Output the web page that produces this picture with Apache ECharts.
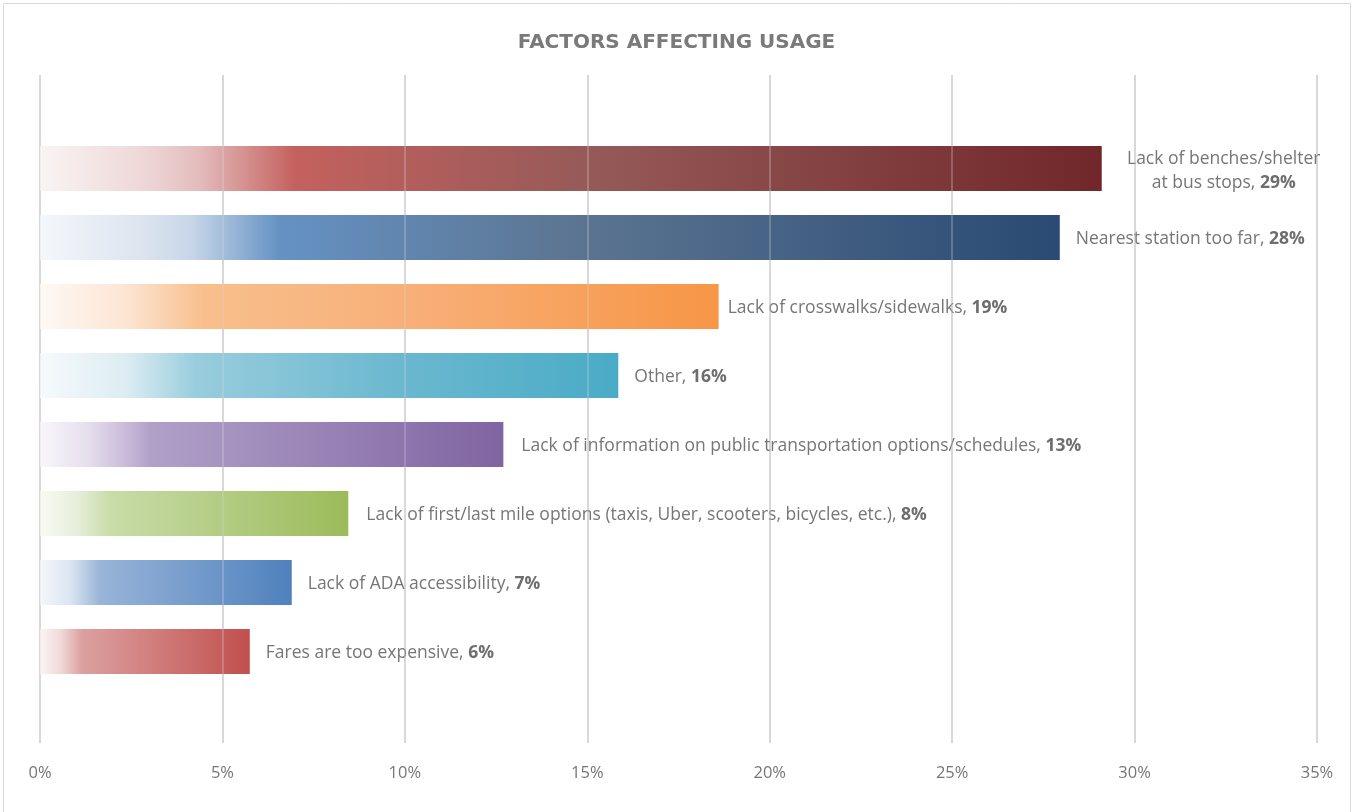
<!DOCTYPE html>
<html>
<head>
<meta charset="utf-8">
<style>
  html, body { margin: 0; padding: 0; background: #ffffff; }
  #chart { width: 1353px; height: 812px; }
</style>
<script src="https://cdn.jsdelivr.net/npm/echarts@6/dist/echarts.min.js"></script>
</head>
<body>
<div id="chart"></div>
<script>
// Survey responses: share of respondents citing each factor (percent)
const categories = [
  'Lack of benches/shelter\nat bus stops',
  'Nearest station too far',
  'Lack of crosswalks/sidewalks',
  'Other',
  'Lack of information on public transportation options/schedules',
  'Lack of first/last mile options (taxis, Uber, scooters, bicycles, etc.)',
  'Lack of ADA accessibility',
  'Fares are too expensive'
];
const values = [29.1, 27.95, 18.6, 15.85, 12.7, 8.45, 6.9, 5.75];

const axisTicks = [0, 5, 10, 15, 20, 25, 30, 35];

// Gradient stops for each bar, left (pale) to right (full colour)
const barGradients = [
  [[0, '#faf4f4'], [0.1, '#eed6d6'], [0.15, '#e3bcbc'], [0.24, '#c4615e'], [0.52, '#955a58'], [1, '#71272a']],
  [[0, '#f4f7fb'], [0.1, '#dce4ef'], [0.15, '#c6d5e8'], [0.235, '#6592c3'], [0.52, '#5c7592'], [1, '#2a4a73']],
  [[0, '#fef9f5'], [0.13, '#fce4d2'], [0.24, '#f8bf8c'], [0.55, '#f8af78'], [1, '#f79646']],
  [[0, '#f6fafc'], [0.15, '#dcecf2'], [0.27, '#98cddd'], [0.62, '#6bb8cf'], [1, '#4aabc6']],
  [[0, '#f8f6fa'], [0.1, '#e6e0ee'], [0.19, '#c8b8d8'], [0.24, '#b0a0c8'], [1, '#8064a2']],
  [[0, '#f8faf3'], [0.12, '#e6eedb'], [0.23, '#c8dca8'], [1, '#9bbb59']],
  [[0, '#f4f7fb'], [0.12, '#dbe5f1'], [0.24, '#98b4d8'], [1, '#4f81bd']],
  [[0, '#fbf4f4'], [0.1, '#f0d8d8'], [0.2, '#dca0a0'], [1, '#c0504d']]
];

const labelGap = [0, 16, 9, 16, 18, 18, 16, 16];

const FONT = '"Open Sans", "Noto Sans", sans-serif';
const TEXT = '#767676';

const chart = echarts.init(document.getElementById('chart'), null, { renderer: 'canvas' });

const gridRect = { left: 40, right: 36, top: 75, bottom: 69 };

const seriesData = values.map((v, i) => {
  const item = {
    value: v,
    itemStyle: {
      color: new echarts.graphic.LinearGradient(0, 0, 1, 0,
        barGradients[i].map(s => ({ offset: s[0], color: s[1] })))
    },
    label: { distance: labelGap[i], offset: [0, 2] }
  };
  if (i === 0) {
    // two-line label, lines centred over each other
    item.label = { distance: 0, align: 'center', offset: [122, 3] };
  }
  return item;
});

chart.setOption({
  animation: false,
  backgroundColor: '#ffffff',
  title: {
    text: 'FACTORS AFFECTING USAGE',
    left: 'center',
    top: 28,
    textStyle: { fontFamily: '"DejaVu Sans", sans-serif', fontSize: 20, fontWeight: 'bold', color: '#7a7a7a' }
  },
  graphic: [{
    type: 'rect',
    shape: { x: 3.5, y: 3.5, width: 1347, height: 820 },
    style: { fill: 'none', stroke: '#d9d9d9', lineWidth: 1 },
    silent: true
  }],
  grid: [
    Object.assign({}, gridRect),
    { left: 40, right: 36, top: 134, height: 552 },
    Object.assign({}, gridRect)
  ],
  xAxis: [
    {
      gridIndex: 0, type: 'value', min: axisTicks[0], max: axisTicks[axisTicks.length - 1], interval: 5,
      axisLine: { show: false }, axisTick: { show: false },
      splitLine: { lineStyle: { color: '#d9d9d9', width: 2 } },
      axisLabel: {
        formatter: v => axisTicks.includes(v) ? v + '%' : '',
        color: TEXT, fontFamily: FONT, fontSize: 16.5, margin: 22
      }
    },
    {
      gridIndex: 1, type: 'value', min: 0, max: 35, show: false
    },
    {
      gridIndex: 2, type: 'value', min: 0, max: 35, interval: 5, z: 5,
      axisLine: { show: false }, axisTick: { show: false }, axisLabel: { show: false },
      splitLine: { lineStyle: { color: 'rgba(217,217,217,0.28)', width: 2 } }
    }
  ],
  yAxis: [
    { gridIndex: 0, type: 'category', data: categories, show: false, inverse: true },
    { gridIndex: 1, type: 'category', data: categories, show: false, inverse: true },
    { gridIndex: 2, type: 'category', data: categories, show: false, inverse: true }
  ],
  series: [{
    type: 'bar',
    xAxisIndex: 1,
    yAxisIndex: 1,
    barWidth: 45,
    z: 2,
    data: seriesData,
    label: {
      show: true,
      position: 'right',
      fontFamily: FONT,
      fontSize: 17.5,
      color: TEXT,
      lineHeight: 24,
      formatter: p => '{n|' + p.name.split('\n').join('}\n{n|') + ', }{b|' + Math.round(p.value) + '%}',
      rich: {
        n: { fontFamily: FONT, fontSize: 17.5, color: TEXT, lineHeight: 24 },
        b: { fontFamily: FONT, fontSize: 17.5, color: '#6e6e6e', fontWeight: 'bold', lineHeight: 24 }
      }
    }
  }]
});
</script>
</body>
</html>
